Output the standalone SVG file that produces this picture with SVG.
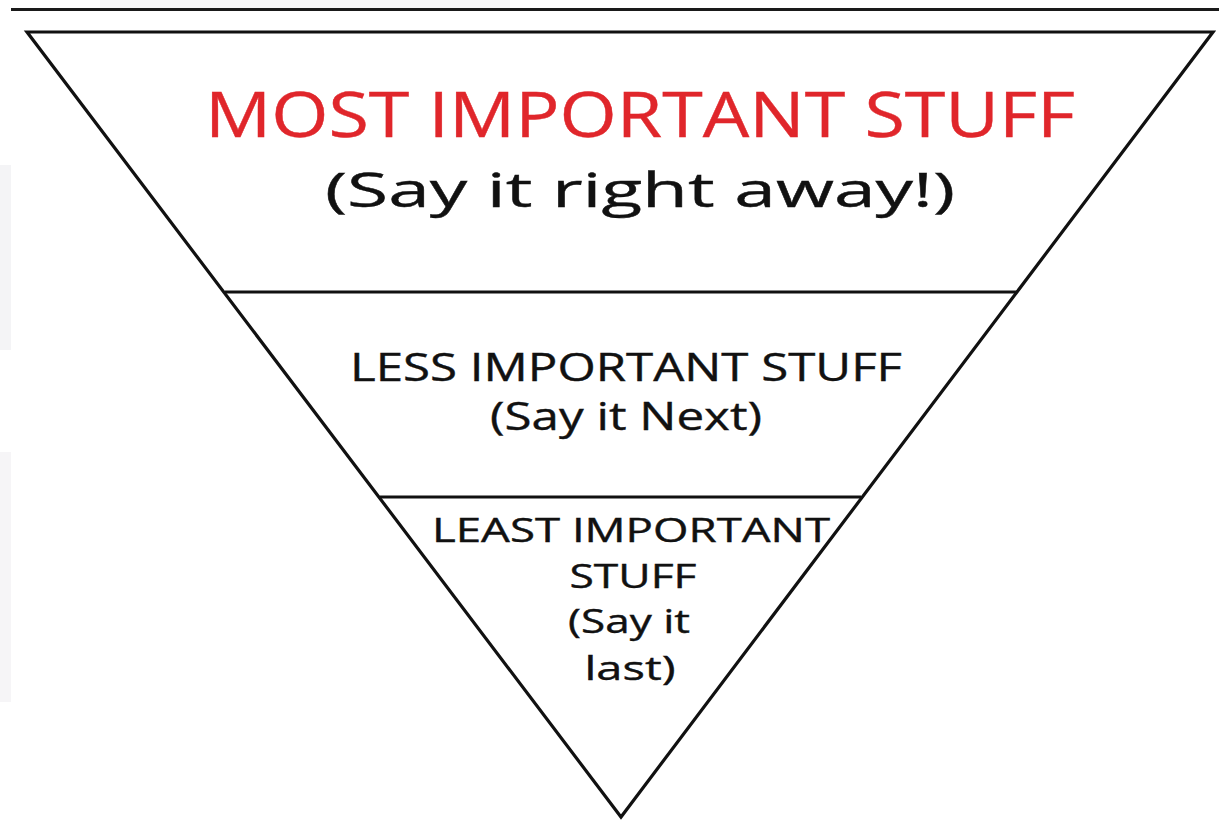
<svg xmlns="http://www.w3.org/2000/svg" width="1219" height="820" viewBox="0 0 1219 820">
  <style>
    .edge { stroke: #111; stroke-width: 3.2; fill: none; stroke-linejoin: miter; }
    .divider { stroke: #111; stroke-width: 2.8; }
    .label { font-family: "Open Sans", "Liberation Sans", sans-serif; fill: #111; text-anchor: middle; stroke: #111; stroke-width: 0.4; }
    .head { fill: #e0262b; stroke: #e0262b; }
  </style>
  <rect width="1219" height="820" fill="#ffffff"/>
  <!-- faint background tint along the left edge -->
  <rect x="0" y="165" width="11" height="185" fill="#f4f4f6"/>
  <rect x="0" y="452" width="11" height="250" fill="#f6f5f7"/>
  <rect x="100" y="0" width="410" height="8" fill="#f7f7f8"/>

  <!-- rule across the top -->
  <line x1="11" y1="9.5" x2="1219" y2="9.5" stroke="#1a1a1a" stroke-width="3"/>

  <g id="connectors">
    <!-- inverted pyramid outline and tier dividers -->
    <polygon class="edge" points="27,32 1213,32 621,817"/>
    <line class="divider" x1="225" y1="292" x2="1017" y2="292"/>
    <line class="divider" x1="380" y1="497" x2="861" y2="497"/>
  </g>

  <g id="tier-most">
    <text class="label head" x="640" y="137" font-size="62" textLength="870" lengthAdjust="spacingAndGlyphs">MOST IMPORTANT STUFF</text>
    <text class="label" x="640" y="207" font-size="48" textLength="630" lengthAdjust="spacingAndGlyphs">(Say it right away!)</text>
  </g>

  <g id="tier-less">
    <text class="label" x="626" y="381" font-size="38" textLength="552" lengthAdjust="spacingAndGlyphs">LESS IMPORTANT STUFF</text>
    <text class="label" x="626" y="430" font-size="39" textLength="272" lengthAdjust="spacingAndGlyphs">(Say it Next)</text>
  </g>

  <g id="tier-least">
    <text class="label" x="631" y="542" font-size="32" textLength="398" lengthAdjust="spacingAndGlyphs">LEAST IMPORTANT</text>
    <text class="label" x="633" y="588" font-size="32" textLength="127" lengthAdjust="spacingAndGlyphs">STUFF</text>
    <text class="label" x="629" y="633" font-size="33" textLength="122" lengthAdjust="spacingAndGlyphs">(Say it</text>
    <text class="label" x="630" y="680" font-size="33" textLength="91" lengthAdjust="spacingAndGlyphs">last)</text>
  </g>
</svg>
